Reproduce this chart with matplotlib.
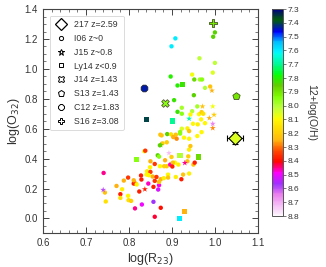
import numpy as np
import matplotlib
matplotlib.use("Agg")
import matplotlib.pyplot as plt
from matplotlib.lines import Line2D

plt.rcParams['font.family'] = ['Liberation Sans', 'DejaVu Sans']

# I06 z~0 (circles): logR23, logO32, 12+log(O/H)
i06_x = [1.000, 0.996, 0.908, 0.899, 0.964, 1.000, 0.947, 0.995, 0.897, 0.913,
         0.952, 0.965, 0.970, 0.977, 0.989, 0.951, 0.905, 0.923, 0.959, 0.913,
         0.923, 0.947, 0.943, 0.963, 0.969, 0.973, 0.949, 0.960, 0.968, 0.977,
         0.936, 0.940, 0.969, 0.889, 0.898, 0.909, 0.919, 0.903, 0.911, 0.928,
         0.940, 0.959, 0.878, 0.888, 0.872, 0.867, 0.870, 0.836, 0.838, 0.899,
         0.884, 0.850, 0.860, 0.872, 0.882, 0.888, 0.896, 0.849, 0.842, 0.850,
         0.741, 0.798, 0.828, 0.829, 0.855, 0.864, 0.874, 0.881, 0.788, 0.812,
         0.816, 0.845, 0.860, 0.771, 0.784, 0.744, 0.746, 0.780, 0.780, 0.798,
         0.799, 0.805, 0.811, 0.818, 0.824, 0.830, 0.814, 0.857, 0.857, 0.868,
         0.870, 0.874, 0.860, 0.811, 0.891, 0.909, 0.926, 0.940, 0.922, 0.940,
         0.943, 0.938, 0.936, 0.907, 0.915, 0.950, 0.953, 0.873, 0.876, 0.923,
         0.919, 0.902, 0.901, 0.891, 0.870, 0.841, 0.846]
i06_y = [1.244, 1.215, 1.204, 1.151, 1.071, 1.040, 0.962, 0.975, 0.949, 0.889,
         0.929, 0.929, 0.929, 0.873, 0.882, 0.824, 0.791, 0.740, 0.749, 0.713,
         0.700, 0.717, 0.695, 0.697, 0.711, 0.700, 0.633, 0.629, 0.662, 0.637,
         0.602, 0.584, 0.577, 0.564, 0.562, 0.560, 0.567, 0.544, 0.533, 0.540,
         0.533, 0.551, 0.502, 0.509, 0.489, 0.422, 0.413, 0.449, 0.453, 0.411,
         0.389, 0.382, 0.364, 0.349, 0.349, 0.349, 0.360, 0.342, 0.315, 0.311,
         0.304, 0.273, 0.287, 0.260, 0.280, 0.277, 0.262, 0.269, 0.253, 0.244,
         0.231, 0.233, 0.251, 0.217, 0.195, 0.173, 0.113, 0.162, 0.137, 0.151,
         0.122, 0.117, 0.233, 0.227, 0.180, 0.093, 0.067, 0.111, 0.211, 0.193,
         0.222, 0.071, 0.011, 0.255, 0.293, 0.277, 0.293, 0.300, 0.262, 0.460,
         0.484, 0.415, 0.382, 0.373, 0.360, 0.360, 0.373, 0.560, 0.555, 0.600,
         0.578, 0.373, 0.347, 0.273, 0.244, 0.293, 0.289]
i06_z = [7.85, 7.85, 7.60, 7.60, 8.02, 8.02, 8.08, 8.05, 7.80, 7.80,
         7.88, 7.98, 7.95, 8.00, 8.22, 7.85, 7.82, 7.98, 7.98, 7.82,
         7.95, 8.00, 8.10, 8.10, 8.20, 8.15, 8.10, 8.12, 8.10, 8.10,
         8.12, 8.22, 8.10, 7.85, 8.15, 8.22, 7.95, 8.25, 8.28, 8.10,
         8.10, 8.10, 8.20, 8.20, 7.85, 7.85, 7.95, 8.10, 8.35, 8.20,
         8.25, 8.25, 8.35, 8.10, 8.20, 8.20, 8.47, 8.10, 8.12, 8.35,
         8.45, 8.35, 8.38, 8.38, 8.25, 8.35, 8.25, 8.12, 8.25, 8.28,
         8.25, 8.47, 8.35, 8.25, 8.12, 8.22, 8.15, 8.38, 8.15, 8.10,
         8.15, 8.20, 8.38, 8.10, 8.38, 8.50, 8.45, 8.57, 8.38, 8.52,
         8.48, 8.40, 8.42, 8.25, 8.10, 8.12, 8.22, 8.12, 8.38, 8.12,
         8.22, 8.20, 8.22, 8.10, 8.12, 8.22, 8.38, 8.22, 8.22, 8.05,
         7.95, 8.22, 8.38, 8.22, 8.22, 8.10, 8.10]

# J15 z~0.8 (stars)
j15_x = [0.993, 0.971, 0.995, 0.998, 0.940, 0.987, 0.995, 0.995, 0.874, 0.893, 0.930, 0.740, 0.837]
j15_y = [0.855, 0.749, 0.749, 0.693, 0.667, 0.671, 0.633, 0.604, 0.491, 0.437, 0.371, 0.191, 0.195]
j15_z = [8.25, 8.22, 8.08, 8.20, 7.68, 8.25, 8.65, 8.28, 7.85, 8.72, 8.45, 8.60, 8.38]

# Ly14 z<0.9 (squares)
ly14_x = [0.925, 0.841, 0.902, 0.817, 0.919, 0.961, 0.929, 0.917]
ly14_y = [0.897, 0.662, 0.651, 0.395, 0.422, 0.411, 0.044, -0.003]
ly14_z = [7.82, 7.40, 7.70, 7.95, 8.00, 7.88, 8.25, 7.60]

# single objects
obj217 = dict(x=1.046, y=0.537, z=8.05, xerr=0.019, yerr=0.04)
j14 = dict(x=0.884, y=0.769, z=7.95)
s13 = dict(x=1.050, y=0.820, z=7.90)
c12 = dict(x=0.836, y=0.873, z=7.44)
s16 = dict(x=0.996, y=1.304, z=7.90)

legend_labels = ['217 z=2.59', 'I06 z~0', 'J15 z~0.8', 'Ly14 z<0.9',
                 'J14 z=1.43', 'S13 z=1.43', 'C12 z=1.83', 'S16 z=3.08']

cmap = 'gist_ncar'
vmin, vmax = 7.3, 8.8
tc = '#333333'

fig = plt.figure(figsize=(3.26, 2.67), dpi=100)
ax = fig.add_axes([0.132, 0.126, 0.659, 0.840])

sc = ax.scatter(i06_x, i06_y, c=i06_z, cmap=cmap, vmin=vmin, vmax=vmax, s=10, marker='o', linewidths=0)
ax.scatter(j15_x, j15_y, c=j15_z, cmap=cmap, vmin=vmin, vmax=vmax, s=20, marker='*', linewidths=0)
ax.scatter(ly14_x, ly14_y, c=ly14_z, cmap=cmap, vmin=vmin, vmax=vmax, s=14, marker='s', linewidths=0)
ax.scatter([j14['x']], [j14['y']], c=[j14['z']], cmap=cmap, vmin=vmin, vmax=vmax, s=30, marker='X',
           edgecolors='#555533', linewidths=0.6)
ax.scatter([s13['x']], [s13['y']], c=[s13['z']], cmap=cmap, vmin=vmin, vmax=vmax, s=30, marker='p',
           edgecolors='#445522', linewidths=0.6)
ax.scatter([c12['x']], [c12['y']], c=[c12['z']], cmap=cmap, vmin=vmin, vmax=vmax, s=28, marker='8',
           edgecolors='#222222', linewidths=0.5)
ax.scatter([s16['x']], [s16['y']], c=[s16['z']], cmap=cmap, vmin=vmin, vmax=vmax, s=34, marker='P',
           edgecolors='#445522', linewidths=0.6)
ax.errorbar([obj217['x']], [obj217['y']], xerr=[obj217['xerr']], yerr=[obj217['yerr']], fmt='none',
            ecolor='black', elinewidth=0.8, capsize=2, capthick=0.8, zorder=3)
ax.scatter([obj217['x']], [obj217['y']], c=[obj217['z']], cmap=cmap, vmin=vmin, vmax=vmax, s=45,
           marker='D', edgecolors='black', linewidths=0.8, zorder=4)

ax.set_xlim(0.6, 1.1)
ax.set_ylim(-0.1, 1.4)
ax.set_xticks(np.arange(0.6, 1.11, 0.1))
ax.set_yticks(np.arange(0.0, 1.41, 0.2))
ax.set_xticks(np.arange(0.6, 1.1, 0.02), minor=True)
ax.set_yticks(np.arange(-0.1, 1.4, 0.05), minor=True)
ax.tick_params(which='both', direction='in', top=True, right=True, colors='#444444',
               labelcolor=tc, labelsize=7)
ax.tick_params(which='major', length=4, width=0.7)
ax.tick_params(which='minor', length=2, width=0.5)
for sp in ax.spines.values():
    sp.set_color('#444444')
    sp.set_linewidth(0.8)
ax.set_xlabel('log(R$_{23}$)', fontsize=9, color=tc, labelpad=2)
ax.set_ylabel('log(O$_{32}$)', fontsize=9, color=tc, labelpad=2)

markers = ['D', 'o', '*', 's', 'X', 'p', '8', 'P']
sizes = [6, 3, 4.5, 3.5, 4.5, 4.5, 4.5, 5]
handles = [Line2D([], [], linestyle='none', marker=m, markersize=ms, markerfacecolor='white',
                  markeredgecolor='black', markeredgewidth=0.9 if m == 'D' else 0.7)
           for m, ms in zip(markers, sizes)]
leg = ax.legend(handles, legend_labels, loc='upper left', fontsize=6.3, frameon=True,
                labelspacing=0.55, handletextpad=0.7, borderpad=0.5, handlelength=1.6,
                bbox_to_anchor=(0.01, 0.99))
leg.get_frame().set_edgecolor('#cccccc')
leg.get_frame().set_linewidth(0.6)
for t in leg.get_texts():
    t.set_color(tc)

cax = fig.add_axes([0.834, 0.191, 0.034, 0.775])
cb = fig.colorbar(sc, cax=cax)
cb.set_ticks(np.arange(7.3, 8.81, 0.1))
cb.set_ticklabels(['%.1f' % v for v in np.arange(7.3, 8.81, 0.1)])
cax.invert_yaxis()
cax.tick_params(labelsize=6, length=2, width=0.5, colors='#444444', labelcolor=tc, pad=1.5)
cb.outline.set_edgecolor('#555555')
cb.outline.set_linewidth(0.7)
cb.set_label('12+log(O/H)', rotation=270, fontsize=7.5, color=tc, labelpad=12)

fig.savefig('out.png', dpi=100)
